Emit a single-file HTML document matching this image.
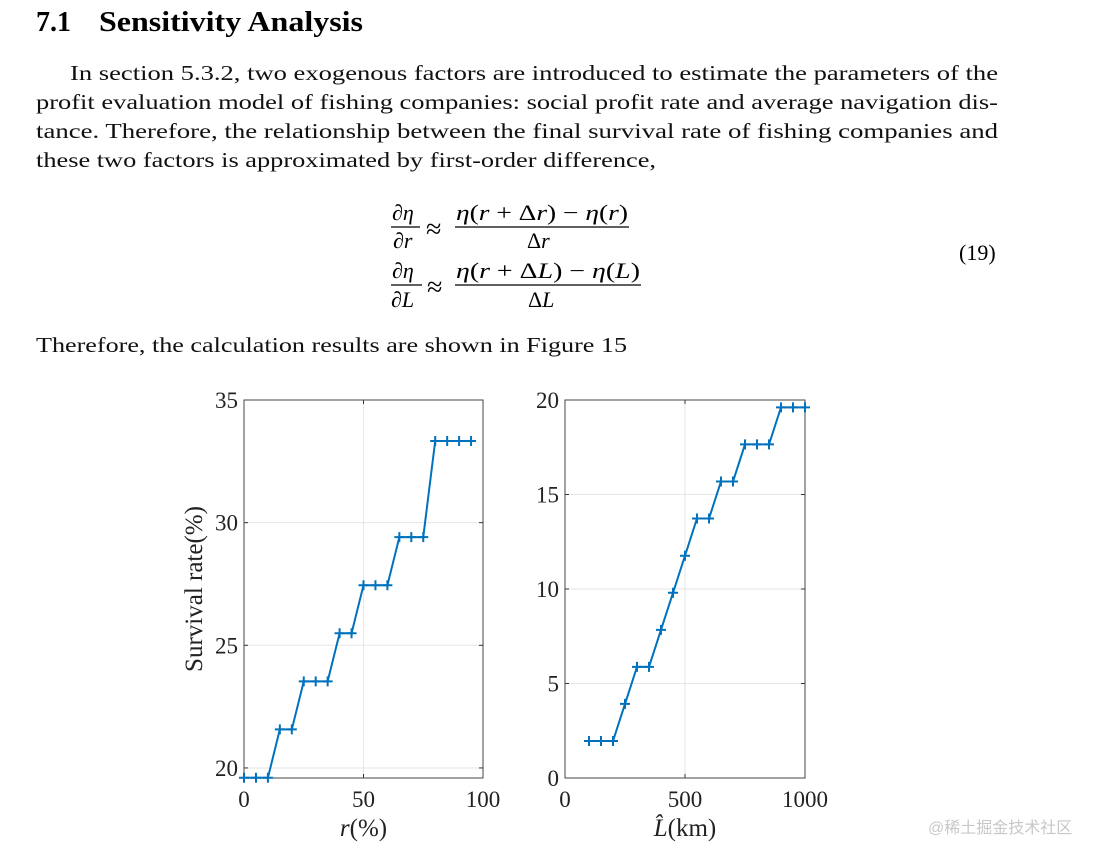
<!DOCTYPE html>
<html><head><meta charset="utf-8"><style>
html,body{margin:0;padding:0;background:#fff;}
svg{display:block;font-family:"Liberation Serif",serif;}
</style></head><body>
<svg id="page" width="1113" height="860" viewBox="0 0 1113 860">
<text x="36" y="31" font-size="28" font-weight="bold">7.1<tspan x="99" textLength="264" lengthAdjust="spacingAndGlyphs">Sensitivity Analysis</tspan></text>
<g font-size="21.5" fill="#111">
<text x="70" y="80" textLength="928" lengthAdjust="spacingAndGlyphs">In section 5.3.2, two exogenous factors are introduced to estimate the parameters of the</text>
<text x="36" y="109" textLength="962" lengthAdjust="spacingAndGlyphs">profit evaluation model of fishing companies: social profit rate and average navigation dis-</text>
<text x="36" y="138" textLength="962" lengthAdjust="spacingAndGlyphs">tance. Therefore, the relationship between the final survival rate of fishing companies and</text>
<text x="36" y="167" textLength="620" lengthAdjust="spacingAndGlyphs">these two factors is approximated by first-order difference,</text>
<text x="36" y="352" textLength="591" lengthAdjust="spacingAndGlyphs">Therefore, the calculation results are shown in Figure 15</text>
</g>
<g font-size="22">
<text x="392" y="220" font-style="italic">∂η</text><line x1="391" y1="227" x2="420" y2="227" stroke="#000" stroke-width="1.2"/><text x="393" y="248" font-style="italic">∂r</text>
<text x="426" y="238" font-size="28">≈</text>
<text x="456" y="220" textLength="172" lengthAdjust="spacingAndGlyphs"><tspan font-style="italic">η</tspan>(<tspan font-style="italic">r</tspan> + Δ<tspan font-style="italic">r</tspan>) − <tspan font-style="italic">η</tspan>(<tspan font-style="italic">r</tspan>)</text>
<line x1="455" y1="227" x2="629" y2="227" stroke="#000" stroke-width="1.2"/><text x="527" y="248">Δ<tspan font-style="italic">r</tspan></text>
<text x="392" y="278" font-style="italic">∂η</text><line x1="391" y1="285" x2="422" y2="285" stroke="#000" stroke-width="1.2"/><text x="391" y="307" font-style="italic">∂L</text>
<text x="427" y="296" font-size="28">≈</text>
<text x="456" y="278" textLength="184" lengthAdjust="spacingAndGlyphs"><tspan font-style="italic">η</tspan>(<tspan font-style="italic">r</tspan> + Δ<tspan font-style="italic">L</tspan>) − <tspan font-style="italic">η</tspan>(<tspan font-style="italic">L</tspan>)</text>
<line x1="455" y1="285" x2="641" y2="285" stroke="#000" stroke-width="1.2"/><text x="528" y="307">Δ<tspan font-style="italic">L</tspan></text>
<text x="959" y="260">(19)</text>
</g>
<g id="charts"></g>
<text x="928" y="833" font-size="16" fill="#c8c8c8" font-family="'Liberation Sans','Noto Sans CJK SC',sans-serif">@稀土掘金技术社区</text>
</svg>
<script>
const rCategories = [0,5,10,15,20,25,30,35,40,45,50,55,60,65,70,75,80,85,90,95];
const rValues = [19.6,19.6,19.6,21.57,21.57,23.53,23.53,23.53,25.49,25.49,27.45,27.45,27.45,29.41,29.41,29.41,33.33,33.33,33.33,33.33];
const rXTicks = [0,50,100];
const rYTicks = [20,25,30,35];
const lCategories = [100,150,200,250,300,350,400,450,500,550,600,650,700,750,800,850,900,950,1000];
const lValues = [1.96,1.96,1.96,3.92,5.88,5.88,7.84,9.8,11.76,13.73,13.73,15.69,15.69,17.65,17.65,17.65,19.61,19.61,19.61];
const lXTicks = [0,500,1000];
const lYTicks = [0,5,10,15,20];
const NS='http://www.w3.org/2000/svg';
const root=document.getElementById('charts');
function mk(tag,attrs,parent){const e=document.createElementNS(NS,tag);for(const k in attrs)e.setAttribute(k,attrs[k]);parent.appendChild(e);return e;}
function chart(name,L,R,T,B,xmin,xmax,ymin,ymax,xs,ys,xt,yt,xlabel,ylabel){
  const g=mk('g',{},root);
  
  
  const sx=v=>L+(v-xmin)/(xmax-xmin)*(R-L);
  const sy=v=>B-(v-ymin)/(ymax-ymin)*(B-T);
  xt.forEach(v=>{
    if(v>xmin&&v<xmax){const gl=mk('line',{x1:sx(v),x2:sx(v),y1:T,y2:B,stroke:'#e6e6e6','stroke-width':1},g);
    
    }
    mk('line',{x1:sx(v),x2:sx(v),y1:B,y2:B-4,stroke:'#333','stroke-width':1},g);
    mk('line',{x1:sx(v),x2:sx(v),y1:T,y2:T+4,stroke:'#333','stroke-width':1},g);
    const t=mk('text',{x:sx(v),y:B+29,'text-anchor':'middle','font-size':23,fill:'#222'},g);t.textContent=v;
    
    
  });
  yt.forEach(v=>{
    if(v>ymin&&v<ymax){const gl=mk('line',{x1:L,x2:R,y1:sy(v),y2:sy(v),stroke:'#e6e6e6','stroke-width':1},g);
    
    }
    mk('line',{x1:L,x2:L+4,y1:sy(v),y2:sy(v),stroke:'#333','stroke-width':1},g);
    mk('line',{x1:R,x2:R-4,y1:sy(v),y2:sy(v),stroke:'#333','stroke-width':1},g);
    const t=mk('text',{x:L-6,y:sy(v)+8,'text-anchor':'end','font-size':23,fill:'#222'},g);t.textContent=v;
    
    
  });
  const box=mk('rect',{x:L,y:T,width:R-L,height:B-T,fill:'none',stroke:'#444','stroke-width':1},g);
  
  
  const pts=xs.map((x,i)=>sx(x)+','+sy(ys[i])).join(' ');
  const pl=mk('polyline',{points:pts,fill:'none',stroke:'#0072bd','stroke-width':2},g);
  
  
  xs.forEach((x,i)=>{
    const p=mk('path',{d:`M${sx(x)-5} ${sy(ys[i])}h10M${sx(x)} ${sy(ys[i])-5}v10`,stroke:'#0072bd','stroke-width':2},g);
    
    
  });
  const xl=mk('text',{x:(L+R)/2,y:B+58,'text-anchor':'middle','font-size':25,fill:'#222'},g);xl.innerHTML=xlabel;
  
  
  if(ylabel){const yl=mk('text',{x:0,y:0,'text-anchor':'middle','font-size':25,fill:'#222',transform:`translate(${L-42},${(T+B)/2}) rotate(-90)`},g);yl.textContent=ylabel;
  
  }
}
chart('chart-r',244,483,400,778,0,100,19.59,35,rCategories,rValues,rXTicks,rYTicks,'<tspan font-style="italic">r</tspan>(%)','Survival rate(%)');
chart('chart-l',565,805,400,778,0,1000,0,20,lCategories,lValues,lXTicks,lYTicks,'<tspan font-style="italic">L̂</tspan>(km)',null);
</script>
</body></html>
